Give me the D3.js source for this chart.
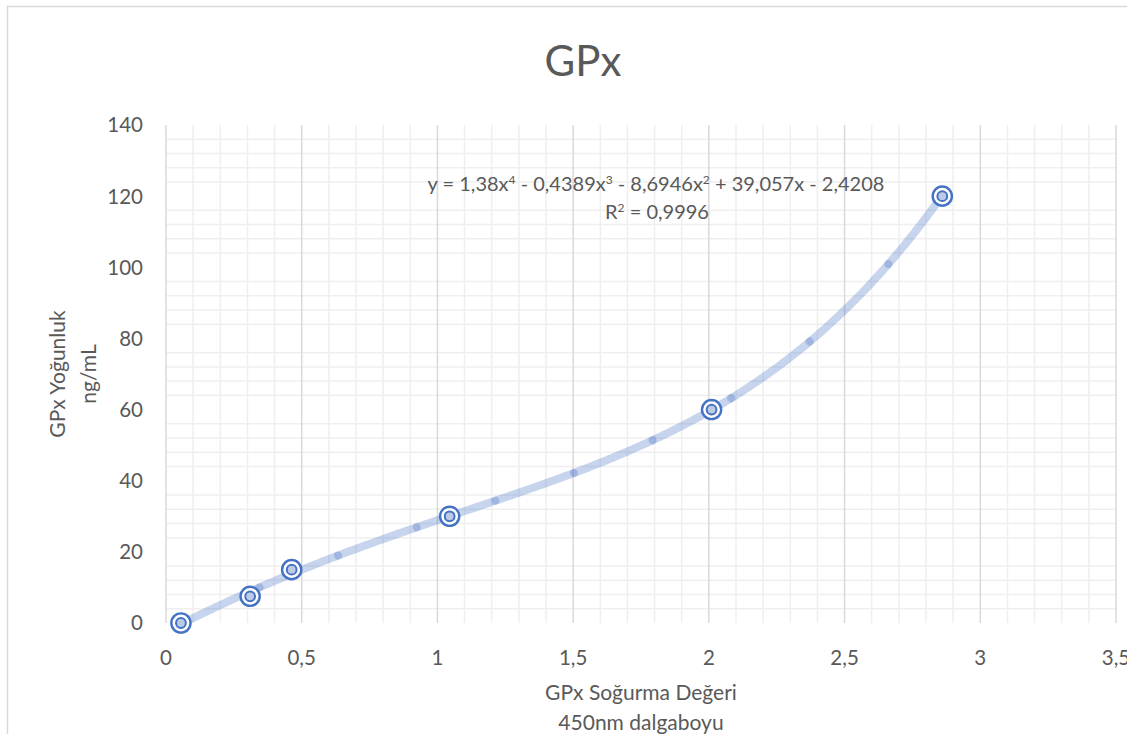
<!DOCTYPE html>
<html>
<head>
<meta charset="utf-8">
<script src="https://cdn.jsdelivr.net/npm/d3@7"></script>
<style>
  html, body { margin: 0; padding: 0; background: #fff; }
  svg { display: block; font-family: Lato, "Open Sans", sans-serif; }
</style>
</head>
<body>
<svg id="chart" width="1141" height="734"></svg>
<script>
// ---- data ----
const chartTitle = "GPx";
const absorbance = [0.055, 0.31, 0.463, 1.045, 2.01, 2.86];
const concentration = [0, 7.5, 15, 30, 60, 120];
const trendCoeffs = [1.38, -0.4389, -8.6946, 39.057, -2.4208]; // x^4 .. x^0
// equation pieces: [text, isSuperscript]
const equationParts = [["y = 1,38x", false], ["4", true], [" - 0,4389x", false], ["3", true],
  [" - 8,6946x", false], ["2", true], [" + 39,057x - 2,4208", false]];
const r2Parts = [["R", false], ["2", true], [" = 0,9996", false]];
const xTicks = [0, 0.5, 1, 1.5, 2, 2.5, 3, 3.5];
const xTickLabels = ["0", "0,5", "1", "1,5", "2", "2,5", "3", "3,5"];
const yTicks = [0, 20, 40, 60, 80, 100, 120, 140];
const yTickLabels = ["0", "20", "40", "60", "80", "100", "120", "140"];
const xTitleLines = ["GPx Soğurma Değeri", "450nm dalgaboyu"];
const yTitleLines = ["GPx Yoğunluk", "ng/mL"];

// ---- layout ----
const svg = d3.select("#chart");
const blue = "#4472c4";
const textColor = "#595959";
const x = d3.scaleLinear().domain([0, 3.5]).range([166, 1116]);
const y = d3.scaleLinear().domain([0, 140]).range([623, 125]);

svg.append("defs").append("clipPath").attr("id", "vis")
  .append("rect").attr("x", 0).attr("y", 0).attr("width", 1127).attr("height", 734);
const root = svg.append("g").attr("clip-path", "url(#vis)");

// chart border
root.append("rect").attr("x", 7.5).attr("y", 6.5).attr("width", 1300).attr("height", 900)
  .attr("fill", "#fff").attr("stroke", "#d9d9d9").attr("stroke-width", 1.5);

// gridlines
const minorX = d3.range(0, 36).map(i => i / 10).filter(v => Math.round(v * 10) % 5 !== 0);
const minorY = d3.range(1, 35).map(i => i * 4).filter(v => v % 20 !== 0);
const grid = root.append("g");
grid.selectAll(".mx").data(minorX).join("line")
  .attr("x1", d => x(d)).attr("x2", d => x(d)).attr("y1", y(140)).attr("y2", y(0))
  .attr("stroke", "#efefef").attr("stroke-width", 1.5);
grid.selectAll(".my").data(minorY).join("line")
  .attr("x1", x(0)).attr("x2", x(3.5)).attr("y1", d => y(d)).attr("y2", d => y(d))
  .attr("stroke", "#efefef").attr("stroke-width", 1.5);
grid.selectAll(".Mx").data(xTicks).join("line")
  .attr("x1", d => x(d)).attr("x2", d => x(d)).attr("y1", y(140)).attr("y2", y(0))
  .attr("stroke", "#d9d9d9").attr("stroke-width", 1.5);

// tick labels
root.append("g").selectAll("text").data(yTicks).join("text")
  .attr("x", 143).attr("y", d => y(d)).attr("dy", "0.36em")
  .attr("text-anchor", "end").attr("font-size", 20.5).attr("fill", textColor)
  .text((d, i) => yTickLabels[i]);
root.append("g").selectAll("text").data(xTicks).join("text")
  .attr("x", d => x(d)).attr("y", 658).attr("dy", "0.36em")
  .attr("text-anchor", "middle").attr("font-size", 20.5).attr("fill", textColor)
  .text((d, i) => xTickLabels[i]);

// trendline (drawn as overlapping translucent segments)
const poly = v => trendCoeffs.reduce((acc, c) => acc * v + c, 0);
const step = 0.2896;
const x0 = absorbance[0], x1 = absorbance[absorbance.length - 1];
const segs = [];
for (let a = x0; a < x1 - 1e-6; a += step) segs.push([a, Math.min(a + step, x1)]);
const lineGen = d3.line().x(d => x(d)).y(d => y(poly(d)));
const tl = root.append("g");
segs.forEach(([a, b]) => {
  const pts = d3.range(0, 21).map(k => a + (b - a) * k / 20);
  tl.append("path").attr("d", lineGen(pts)).attr("fill", "none")
    .attr("stroke", blue).attr("stroke-opacity", 0.3)
    .attr("stroke-width", 8).attr("stroke-linecap", "round");
});

// markers
const pts = absorbance.map((a, i) => ({ a, c: concentration[i] }));
const mk = root.append("g");
mk.selectAll(".outer").data(pts).join("circle")
  .attr("cx", d => x(d.a)).attr("cy", d => y(d.c)).attr("r", 9.6)
  .attr("fill", "#fff").attr("stroke", blue).attr("stroke-width", 2.4);
mk.selectAll(".inner").data(pts).join("circle")
  .attr("cx", d => x(d.a)).attr("cy", d => y(d.c)).attr("r", 4.9)
  .attr("fill", "#bccae6").attr("stroke", blue).attr("stroke-width", 2);

// equation label
function richText(parts, cx, cy, size) {
  const t = root.append("text").attr("x", cx).attr("y", cy).attr("dy", "0.36em")
    .attr("text-anchor", "middle").attr("font-size", size).attr("fill", textColor);
  parts.forEach(([s, sup]) => {
    const ts = t.append("tspan").text(s);
    if (sup) ts.attr("font-size", size * 0.6).attr("baseline-shift", size * 0.34);
  });
}
richText(equationParts, 656, 184, 20);
richText(r2Parts, 657, 212, 20);

// title
root.append("text").attr("x", 583).attr("y", 61).attr("dy", "0.36em")
  .attr("text-anchor", "middle").attr("font-size", 42).attr("fill", textColor)
  .text(chartTitle);

// axis titles
root.append("g").selectAll("text").data(xTitleLines).join("text")
  .attr("x", 641).attr("y", (d, i) => 692 + i * 30).attr("dy", "0.36em")
  .attr("text-anchor", "middle").attr("font-size", 21).attr("fill", textColor)
  .text(d => d);
root.append("g").selectAll("text").data(yTitleLines).join("text")
  .attr("transform", (d, i) => `translate(${57 + i * 31},374) rotate(-90)`)
  .attr("dy", "0.36em")
  .attr("text-anchor", "middle").attr("font-size", 21).attr("fill", textColor)
  .text(d => d);
</script>
</body>
</html>
